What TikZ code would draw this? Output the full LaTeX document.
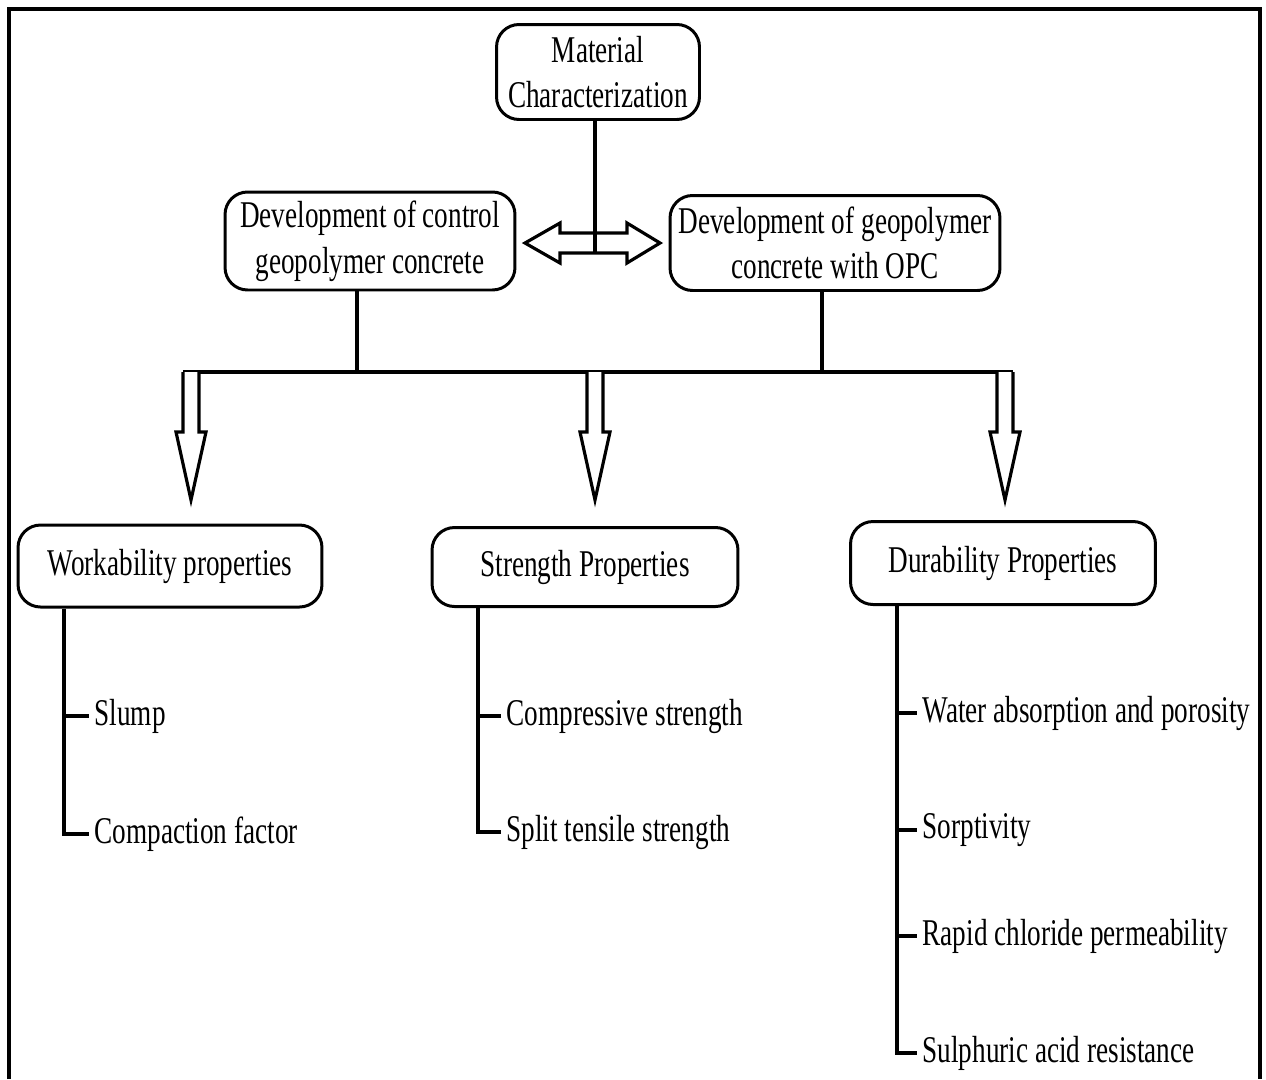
\documentclass[tikz,border=0pt]{standalone}
\usepackage{fontspec}
\setmainfont{Liberation Serif}[FakeStretch=0.72]
\usetikzlibrary{positioning}

\tikzset{
  box/.style={draw, line width=1.7pt, rounded corners=0.45cm, align=center,
    inner sep=0pt, font=\fontsize{21.5}{26}\selectfont},
  item/.style={anchor=west, inner sep=3pt, font=\fontsize{21.5}{26}\selectfont},
  line/.style={line width=1.8pt},
  hollow/.style={line width=1.8pt, fill=white, line join=miter},
}

\begin{document}
\begin{tikzpicture}[x=0.02cm,y=-0.02cm]
\useasboundingbox (0,0) rectangle (1266,1079);
\newcommand\hollowdown[1]{
\draw[hollow] (#1-8,372) -- (#1-8,432) -- (#1-15,432) -- (#1,500)
  -- (#1+15,432) -- (#1+8,432) -- (#1+8,372);
}
% frame
\draw[line width=2.3pt] (9,1079) -- (9,9) -- (1260,9) -- (1260,1079);

% boxes
\node[box, minimum width=4.06cm, minimum height=1.9cm] (matchar) at (598,72) {Material\\Characterization};
\node[box, minimum width=5.8cm, minimum height=1.96cm] (devctrl) at (370,241) {Development of control\\geopolymer concrete};
\node[box, minimum width=6.6cm, minimum height=1.9cm] (devopc) at (835,243) {Development of geopolymer\\concrete with OPC};
\node[box, minimum width=6.08cm, minimum height=1.64cm] (work) at (170,566) {Workability properties};
\node[box, minimum width=6.12cm, minimum height=1.58cm] (strength) at (585,567) {Strength Properties};
\node[box, minimum width=6.1cm, minimum height=1.66cm] (dura) at (1003,563) {Durability Properties};

% double arrow between the two mixes
\coordinate (dbl) at (595,253);
\draw[hollow] (525,243) -- (560,223) -- (560,233) -- (627,233) -- (627,223) -- (660,243)
  -- (627,263) -- (627,253) -- (560,253) -- (560,263) -- cycle;
\draw[line] (matchar.south -| dbl) -- (dbl);

% bar and arrows down
\coordinate (barL) at (183,372);
\coordinate (barR) at (1013,372);
\draw[line] ([xshift=-0.26cm]devctrl.south) -- ([xshift=-0.26cm]devctrl.south |- barL);
\draw[line] ([xshift=-0.26cm]devopc.south) -- ([xshift=-0.26cm]devopc.south |- barL);
\draw[line] (barL) -- (barR);
\hollowdown{191}
\hollowdown{595}
\hollowdown{1005}

% workability
\node[item] (slump) at (89,716) {Slump};
\node[item] (compfac) at (89,834) {Compaction factor};
\coordinate (wtrunk) at (64,0 |- work.south);
\draw[line] (wtrunk) |- (compfac.west);
\draw[line] (wtrunk |- slump.west) -- (slump.west);

% strength
\node[item] (compr) at (501,716) {Compressive strength};
\node[item] (split) at (501,832) {Split tensile strength};
\coordinate (strunk) at (478,0 |- strength.south);
\draw[line] (strunk) |- (split.west);
\draw[line] (strunk |- compr.west) -- (compr.west);

% durability
\node[item] (water) at (917,713) {Water absorption and porosity};
\node[item] (sorp) at (917,830) {Sorptivity};
\node[item] (rcpt) at (917,936) {Rapid chloride permeability};
\node[item] (acid) at (917,1053) {Sulphuric acid resistance};
\coordinate (dtrunk) at (897,0 |- dura.south);
\draw[line] (dtrunk) |- (acid.west);
\foreach \n in {water,sorp,rcpt}
  \draw[line] (dtrunk |- \n.west) -- (\n.west);
\end{tikzpicture}
\end{document}
